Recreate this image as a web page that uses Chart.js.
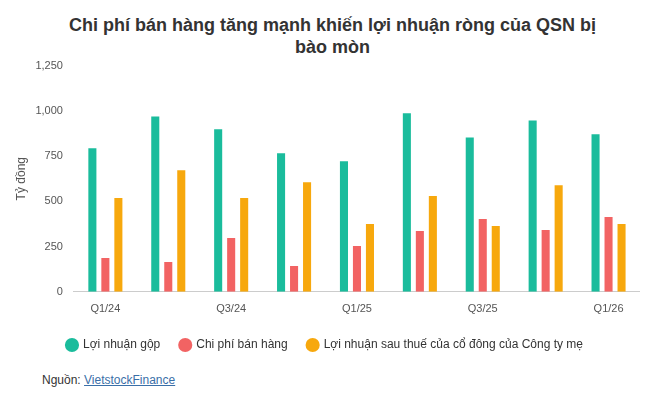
<!DOCTYPE html>
<html>
<head>
<meta charset="utf-8">
<script src="https://cdn.jsdelivr.net/npm/chart.js@4"></script>
<style>
    body { margin: 0; background: #fff; font-family: Arial, "Liberation Sans", sans-serif; }
    #wrap { width: 665px; height: 409px; position: relative; }
    h1 { margin: 0; padding-top: 14px; font-size: 18px; font-weight: bold; text-align: center; color: #333; line-height: 22px; }
    #box { position: absolute; left: 10px; top: 56px; width: 630px; height: 305px; }
    #src { position: absolute; left: 42px; top: 373px; font-size: 12px; color: #333; }
    #src a { color: #3a6fa8; }
</style>
</head>
<body>
<div id="wrap">
    <h1>Chi phí bán hàng tăng mạnh khiến lợi nhuận ròng của QSN bị<br>bào mòn</h1>
    <div id="box"><canvas id="chart"></canvas></div>
    <div id="src">Nguồn: <a href="#">VietstockFinance</a></div>
</div>
<script>
const quarters = ['Q1/24', 'Q2/24', 'Q3/24', 'Q4/24', 'Q1/25', 'Q2/25', 'Q3/25', 'Q4/25', 'Q1/26'];
const grossProfit = [793, 969, 898, 765, 721, 986, 853, 947, 870];
const sellingCost = [187, 165, 297, 143, 253, 336, 402, 341, 413];
const netProfit = [518, 672, 518, 606, 374, 529, 363, 589, 374];

new Chart(document.getElementById('chart'), {
    type: 'bar',
    data: {
        labels: quarters,
        datasets: [
            { label: 'Lợi nhuận gộp', data: grossProfit, backgroundColor: '#1abc9c' },
            { label: 'Chi phí bán hàng', data: sellingCost, backgroundColor: '#f26363' },
            { label: 'Lợi nhuận sau thuế của cổ đông của Công ty mẹ', data: netProfit, backgroundColor: '#f7a80d' }
        ]
    },
    options: {
        responsive: true,
        maintainAspectRatio: false,
        animation: false,
        datasets: { bar: { categoryPercentage: 0.62, barPercentage: 0.62 } },
        plugins: {
            legend: {
                position: 'bottom',
                labels: { usePointStyle: true, pointStyle: 'circle', boxWidth: 10, boxHeight: 10, padding: 20, color: '#333', font: { size: 12 } }
            },
            tooltip: { enabled: false }
        },
        scales: {
            x: {
                grid: { display: false },
                border: { color: '#ccc' },
                ticks: {
                    color: '#555', font: { size: 11 }, maxRotation: 0, autoSkip: false,
                    callback: (v, i) => i % 2 === 0 ? quarters[i] : ''
                }
            },
            y: {
                min: 0, max: 1250,
                grid: { display: false },
                border: { display: false },
                ticks: { stepSize: 250, color: '#555', font: { size: 11 }, callback: v => v.toLocaleString('en-US') },
                title: { display: true, text: 'Tỷ đồng', color: '#555', font: { size: 12 } }
            }
        }
    }
});
</script>
</body>
</html>
